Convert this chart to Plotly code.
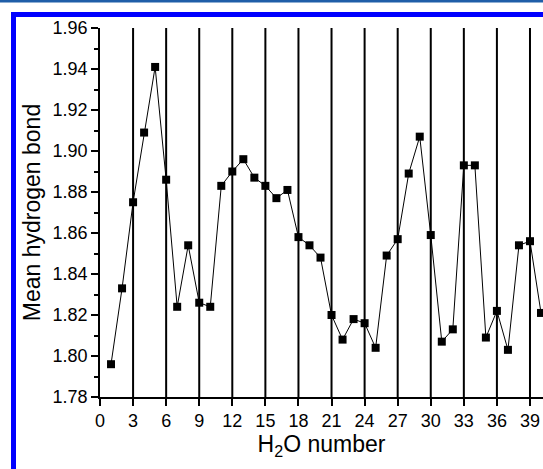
import plotly.graph_objects as go

# Data
h2o_number = list(range(1, 41))
mean_hbond = [1.796, 1.833, 1.875, 1.909, 1.941, 1.886, 1.824, 1.854, 1.826, 1.824,
              1.883, 1.890, 1.896, 1.887, 1.883, 1.877, 1.881, 1.858, 1.854, 1.848,
              1.820, 1.808, 1.818, 1.816, 1.804, 1.849, 1.857, 1.889, 1.907, 1.859,
              1.807, 1.813, 1.893, 1.893, 1.809, 1.822, 1.803, 1.854, 1.856, 1.821]
divider_positions = [3, 6, 9, 12, 15, 18, 21, 24, 27, 30, 33, 36, 39]
y_range = [1.78, 1.96]
x_range = [0, 40.18]

FONT = "Arial, Liberation Sans, sans-serif"

fig = go.Figure()
fig.add_trace(go.Scatter(
    x=h2o_number, y=mean_hbond, mode="lines+markers",
    line=dict(color="black", width=1),
    marker=dict(symbol="square", size=8, color="black"),
    showlegend=False,
))

shapes = []
for xv in divider_positions:
    shapes.append(dict(type="line", xref="x", yref="y", x0=xv, x1=xv,
                       y0=y_range[0], y1=y_range[1],
                       line=dict(color="black", width=2), layer="above"))

# page frame decorations (blue borders)
L, R, T, B = 100, 543, 28, 397
def px(v):
    return (v - L) / (R - L)
def py(v):
    return (B - v) / (B - T)
shapes.append(dict(type="rect", xref="paper", yref="paper",
                   x0=px(0), x1=px(543), y0=py(0), y1=py(2.5),
                   fillcolor="#1f5ea8", line=dict(width=0)))
shapes.append(dict(type="rect", xref="paper", yref="paper",
                   x0=px(11), x1=px(543), y0=py(12), y1=py(17),
                   fillcolor="#0000ff", line=dict(width=0)))
shapes.append(dict(type="rect", xref="paper", yref="paper",
                   x0=px(11), x1=px(16), y0=py(12), y1=py(469),
                   fillcolor="#0000ff", line=dict(width=0)))

fig.update_layout(
    width=543, height=469,
    margin=dict(l=L, r=543 - R, t=T, b=469 - B, autoexpand=False),
    paper_bgcolor="white", plot_bgcolor="white",
    font=dict(family=FONT, color="black", size=18),
    shapes=shapes,
    xaxis=dict(range=x_range, tick0=0, dtick=3, showgrid=False, zeroline=False,
               automargin=False,
               showline=True, linecolor="black", linewidth=1.5,
               ticks="outside", ticklen=7, tickwidth=1.5, tickcolor="black",
               tickfont=dict(size=18, family=FONT),
               title=dict(text="H<sub>2</sub>O number", font=dict(size=23, family=FONT), standoff=2)),
    yaxis=dict(range=y_range, tick0=1.78, dtick=0.02, tickformat=".2f",
               showgrid=False, zeroline=False, automargin=False,
               showline=True, linecolor="black", linewidth=1.5,
               ticks="outside", ticklen=7, tickwidth=1.5, tickcolor="black",
               tickfont=dict(size=18, family=FONT),
               minor=dict(dtick=0.01, ticks="outside", ticklen=4, tickwidth=1.5, tickcolor="black", showgrid=False),
               title=dict(text="Mean hydrogen bond", font=dict(size=23, family=FONT), standoff=6)),
)

fig.write_html("out.html", config={"displayModeBar": False},
               post_script="document.body.style.margin='0';document.body.style.overflow='hidden';")
